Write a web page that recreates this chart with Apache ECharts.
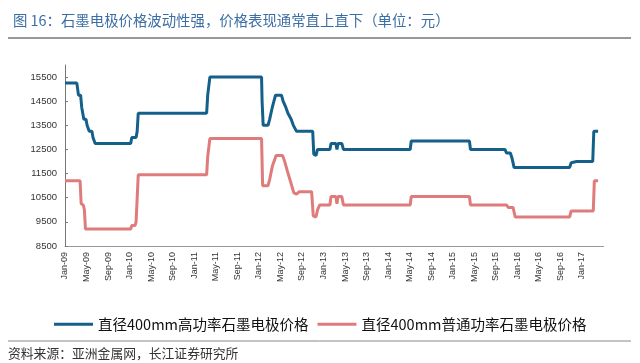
<!DOCTYPE html>
<html><head><meta charset="utf-8">
<script src="https://cdn.jsdelivr.net/npm/echarts@6/dist/echarts.min.js"></script>
<style>html,body{margin:0;padding:0;background:#fff}#c{width:640px;height:363px}</style>
</head><body><div id="c"></div>
<script>
// x = months since Jan-09
var monthLabels = ['Jan-09','May-09','Sep-09','Jan-10','May-10','Sep-10','Jan-11','May-11','Sep-11','Jan-12','May-12','Sep-12','Jan-13','May-13','Sep-13','Jan-14','May-14','Sep-14','Jan-15','May-15','Sep-15','Jan-16','May-16','Sep-16','Jan-17'];
var yTicks = [8500,9500,10500,11500,12500,13500,14500,15500];
var seriesNames = ['直径400mm高功率石墨电极价格','直径400mm普通功率石墨电极价格'];
var hpMonths = [0,2.2,2.5,2.9,3.1,3.3,3.5,3.9,4.1,4.3,4.5,5.0,5.2,5.4,5.6,12.2,12.4,13.2,13.4,13.6,26.3,26.5,26.9,36.5,36.6,36.8,37.7,38.0,38.5,39.1,40.2,40.5,41.0,41.4,42.0,42.4,43.0,46.0,46.2,46.6,46.9,49.2,49.4,50.3,50.5,50.7,51.4,51.7,64.1,64.3,75.1,75.3,81.7,82.0,82.7,83.0,83.4,93.7,94.0,95.0,98.0,98.2,99];
var hpValues = [15250,15250,14750,14750,14250,14250,13750,13750,13500,13500,13250,13250,13000,13000,12750,12750,13000,13000,13250,14000,14000,14750,15500,15500,14500,13500,13500,13750,14250,14750,14750,14500,14250,14000,13750,13500,13250,13250,12300,12250,12500,12500,12750,12750,12500,12750,12750,12500,12500,12850,12850,12500,12500,12350,12350,12150,11750,11750,11950,12000,12000,13250,13250];
var rpMonths = [0,2.8,3.0,3.4,3.6,3.8,12.2,12.4,13.0,13.2,13.4,13.6,26.3,26.5,26.9,36.5,36.7,37.0,37.7,38.0,38.5,39.2,40.4,40.8,41.3,41.9,42.5,43.0,43.5,45.8,46.1,46.6,46.9,47.3,49.2,49.4,50.3,50.5,50.7,51.4,51.7,64.1,64.3,75.1,75.3,82.0,82.3,83.2,83.6,93.7,94.0,98.1,98.3,99];
var rpValues = [11200,11200,10250,10200,10000,9200,9200,9350,9350,9500,9500,11450,11450,12200,12950,12950,11000,10950,11000,11250,11800,12250,12250,12000,11600,11150,10700,10650,10750,10750,9750,9700,10000,10200,10200,10550,10550,10250,10550,10550,10200,10200,10550,10550,10200,10200,10100,10100,9700,9700,9950,9950,11200,11200];

function pairs(xs, ys){ return xs.map(function(x,i){ return [x, ys[i]]; }); }
var chart = echarts.init(document.getElementById('c'), null, {renderer:'canvas'});
var cjk = '"Noto Sans CJK SC", sans-serif';
chart.setOption({
  animation:false,
  title:{text:'图 16：石墨电极价格波动性强，价格表现通常直上直下（单位：元）', left:8, top:8,
    textStyle:{fontSize:14.4, fontWeight:'normal', color:'#3b6ea5', fontFamily:cjk}},
  graphic:[
    {type:'line', shape:{x1:8,y1:38,x2:631,y2:38}, style:{stroke:'#333', lineWidth:1.2}},
    {type:'line', shape:{x1:8,y1:341,x2:631,y2:341}, style:{stroke:'#888', lineWidth:1}},
    {type:'text', left:8, top:347, style:{text:'资料来源：亚洲金属网，长江证券研究所', fontSize:12.8, fill:'#333', fontFamily:cjk}}
  ],
  legend:{left:49, top:312, itemWidth:39, itemHeight:3, itemGap:9, icon:'rect',
    textStyle:{fontSize:14.5, color:'#111', fontFamily:cjk}, data:seriesNames},
  grid:{left:65, top:65, right:36.5, bottom:117},
  xAxis:{type:'value', min:0, max:100, interval:4,
    axisLine:{lineStyle:{color:'#999'}}, axisTick:{show:false}, splitLine:{show:false},
    axisLabel:{rotate:90, fontSize:9, color:'#333', margin:6, fontFamily:'"Liberation Sans", Arial',
      showMaxLabel:false,
      formatter:function(v){ var i=Math.round(v/4); return monthLabels[i]||''; }}},
  yAxis:{type:'value', min:8500, max:16000, interval:1000,
    axisLine:{show:true, lineStyle:{color:'#777'}}, axisTick:{show:true, inside:true, length:3, lineStyle:{color:'#777'}},
    splitLine:{show:false},
    axisLabel:{fontSize:9.5, color:'#333', margin:8, fontFamily:'"Liberation Sans", Arial', showMaxLabel:false,
      formatter:function(v){ return yTicks.indexOf(v)>=0 ? String(v) : ''; }}},
  series:[
    {name:seriesNames[0], type:'line', data:pairs(hpMonths,hpValues), symbol:'none',
      lineStyle:{color:'#15608b', width:3}, itemStyle:{color:'#15608b'}},
    {name:seriesNames[1], type:'line', data:pairs(rpMonths,rpValues), symbol:'none',
      lineStyle:{color:'#e07b7b', width:3}, itemStyle:{color:'#e07b7b'}}
  ]
});
</script></body></html>
